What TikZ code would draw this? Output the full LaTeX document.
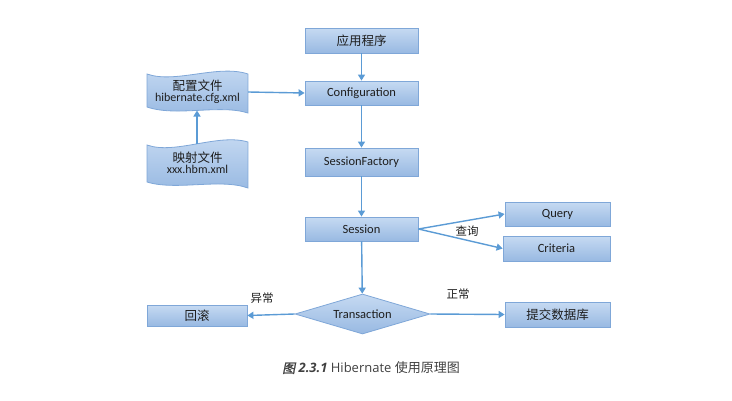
\documentclass[tikz,border=0pt]{standalone}
\usepackage{fontspec}
\setmainfont{Carlito}
\newfontfamily\cjk{Noto Sans CJK SC}
\newfontfamily\cjkbi{Noto Sans CJK SC}[FakeSlant=0.2,FakeBold=1.5]
\newfontfamily\capfont{Open Sans}
\usetikzlibrary{shapes.geometric,arrows.meta}
\definecolor{edge}{HTML}{5B9BD5}
\definecolor{boxtop}{HTML}{C6DAF2}
\definecolor{boxbot}{HTML}{98B9E2}
\definecolor{boxline}{HTML}{7FA7D8}
\definecolor{txt}{HTML}{1E1E1E}
\tikzset{
  box/.style={draw=boxline, line width=0.8pt, top color=boxtop, bottom color=boxbot,
    minimum width=#1, minimum height=25, inner sep=0pt, text=txt, font=\fontsize{12.5}{14}\selectfont},
  box/.default=113,
  conn/.style={draw=edge, line width=1.4pt, -{Triangle[width=7pt,length=6pt]}},
  lbl/.style={text=txt, font=\cjk\fontsize{11.5}{13}\selectfont, inner sep=0pt},
  docarea/.style={inner sep=0pt, minimum width=101, align=center, text=txt, font=\fontsize{12}{13}\selectfont},
  docshape/.style={draw=boxline, line width=0.8pt, top color=boxtop, bottom color=boxbot}
}
\begin{document}
\begin{tikzpicture}[x=1pt,y=-1pt]
\useasboundingbox (0,0) rectangle (732,400);
% main column
\node[box] (app) at (361.5,40.5) {\cjk\fontsize{12.5}{14}\selectfont 应用程序};
\node[box,minimum height=24] (cfg) at (361.5,93) {Configuration};
\node[box,minimum height=28] (sf) at (361.5,162) {SessionFactory};
\node[box,minimum height=24] (sess) at (361.5,229) {Session};
\node[box=105,minimum height=24] (query) at (557.5,214) {Query};
\node[box=107,minimum height=25] (crit) at (556.5,248.5) {Criteria};
\node[draw=boxline, line width=0.8pt, top color=boxtop, bottom color=boxbot, shape=diamond,
      aspect=3.4, minimum width=135, minimum height=40, inner sep=0pt, text=txt,
      font=\fontsize{12.5}{14}\selectfont] (trans) at (362.5,314) {Transaction};
\node[box=100,minimum height=21] (roll) at (197,315.5) {\cjk\fontsize{12.5}{14}\selectfont 回滚};
\node[box=105,minimum height=25] (commit) at (557.5,314.5) {\cjk\fontsize{12.5}{14}\selectfont 提交数据库};
% document shapes
\path[docshape] (147,74) .. controls (175,84) and (218,64) .. (248,74)
  -- (248,113) .. controls (220,104) and (176,117) .. (147,107) -- cycle;
\node[docarea, minimum height=34] (cfgfile) at (197.5,92)
  {{\cjk\fontsize{12.5}{14}\selectfont 配置文件}\\[-2pt]hibernate.cfg.xml};
\path[docshape] (147,145) .. controls (175,155) and (218,133) .. (248,142)
  -- (248,188) .. controls (220,178) and (176,191) .. (147,182) -- cycle;
\node[docarea, minimum height=34] (mapfile) at (197.5,163)
  {{\cjk\fontsize{12.5}{14}\selectfont 映射文件}\\[-2pt]xxx.hbm.xml};
\coordinate (mapTop) at (197,144);
\coordinate (cfgBot) at (197,110.5);
% connectors
\draw[conn] (app) -- (cfg);
\draw[conn] (cfg) -- (sf);
\draw[conn] (sf) -- (sess);
\draw[conn] (sess) -- (trans);
\draw[conn] (sess.east) -- (query.west);
\draw[conn] (sess.east) -- (crit.west);
\draw[conn] (mapTop) -- (cfgBot);
\draw[conn] (cfgfile.east) -- (cfg.west);
\draw[conn] (trans.west) -- (roll.east);
\draw[conn] (trans.east) -- (commit.west);
% labels
\node[lbl] (q) at (467,231) {查询};
\node[lbl] (ex) at (262,298) {异常};
\node[lbl] (ok) at (458,294.5) {正常};
% caption
\node[inner sep=0pt, text=txt!85] (cap) at (371,368)
  {{\cjkbi\fontsize{13}{15}\selectfont 图}{\capfont\bfseries\itshape\fontsize{13}{15}\selectfont\ 2.3.1\ }{\capfont\fontsize{13}{15}\selectfont Hibernate\ }{\cjk\fontsize{13}{15}\selectfont 使用原理图}};
\end{tikzpicture}
\end{document}
